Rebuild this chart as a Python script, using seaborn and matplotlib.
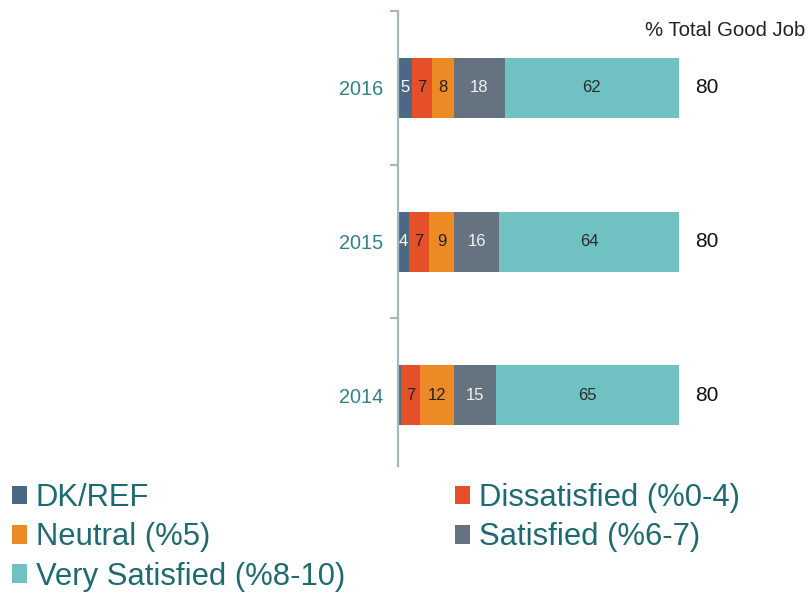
import numpy as np
import pandas as pd
import matplotlib
matplotlib.use("Agg")
import matplotlib.pyplot as plt
from matplotlib.patches import Patch
import seaborn as sns

years = ["2016", "2015", "2014"]
categories = ["DK/REF", "Dissatisfied (%0-4)", "Neutral (%5)",
              "Satisfied (%6-7)", "Very Satisfied (%8-10)"]
dk_ref = [5, 4, 1]
dissatisfied = [7, 7, 7]
neutral = [8, 9, 12]
satisfied = [18, 16, 15]
very_satisfied = [62, 64, 65]
total_good_job = [80, 80, 80]

colors = ["#4b6985", "#e5502a", "#ee8a26", "#64737f", "#70c1c1"]
label_colors = ["white", "#222222", "#222222", "#f2f2f2", "#2b2b2b"]

series = [dk_ref, dissatisfied, neutral, satisfied, very_satisfied]

sns.set_theme(style="white")
plt.rcParams["font.family"] = ["Liberation Sans", "DejaVu Sans"]

fig = plt.figure(figsize=(8.10, 5.92), dpi=100)
W, H = 810, 592
ax = fig.add_axes([398 / W, 1 - 466 / H, (679 - 398) / W, (466 - 11) / H])

df = pd.DataFrame({"year": years})
starts = np.zeros(len(years))
for name, vals, col, lcol in zip(categories, series, colors, label_colors):
    df[name] = vals
    sns.barplot(data=df, x=name, y="year", order=years, orient="h",
                color=col, width=0.39, left=starts, saturation=1,
                linewidth=0, ax=ax)
    for i, v in enumerate(vals):
        if v >= 2:
            ax.text(starts[i] + v / 2, i, f"{v}", ha="center", va="center",
                    fontsize=12, color=lcol)
    starts = starts + np.array(vals)

for i, t in enumerate(total_good_job):
    ax.text(110, i, f"{t}", ha="center", va="center", fontsize=15,
            color="#111111", clip_on=False)
ax.text(145, -0.37, "% Total Good Job", ha="right", va="center",
        fontsize=14.6, color="#222222", clip_on=False)

ax.set_xlim(0, 100)
ax.set_ylim(2.46, -0.5)
ax.set_xlabel("")
ax.set_ylabel("")
ax.set_xticks([])
for s in ["top", "right", "bottom"]:
    ax.spines[s].set_visible(False)
ax.spines["left"].set_color("#a9b6bc")
ax.spines["left"].set_linewidth(1.6)
ax.set_yticks([0, 1, 2])
ax.set_yticklabels(years)
ax.set_yticks([-0.5, 0.5, 1.5], minor=True)
ax.tick_params(axis="y", which="major", length=0, pad=10.5, labelsize=14.3,
               labelcolor="#347f8a")
ax.tick_params(axis="y", which="minor", left=True, length=5.5, width=1.6,
               color="#a9b6bc")

handles = [Patch(facecolor=c, edgecolor="none") for c in colors]
legend_kw = dict(frameon=False, fontsize=22.3, handlelength=0.47,
                 handleheight=0.56, handletextpad=0.3, labelspacing=0.3,
                 borderpad=0, borderaxespad=0, loc="upper left",
                 labelcolor="#1f6a70")
leg1 = fig.legend([handles[0], handles[2], handles[4]],
                  [categories[0], categories[2], categories[4]],
                  bbox_to_anchor=(12 / W, 1 - 483 / H), **legend_kw)
leg2 = fig.legend([handles[1], handles[3]],
                  [categories[1], categories[3]],
                  bbox_to_anchor=(455 / W, 1 - 483 / H), **legend_kw)

fig.savefig("out.png", dpi=100)
